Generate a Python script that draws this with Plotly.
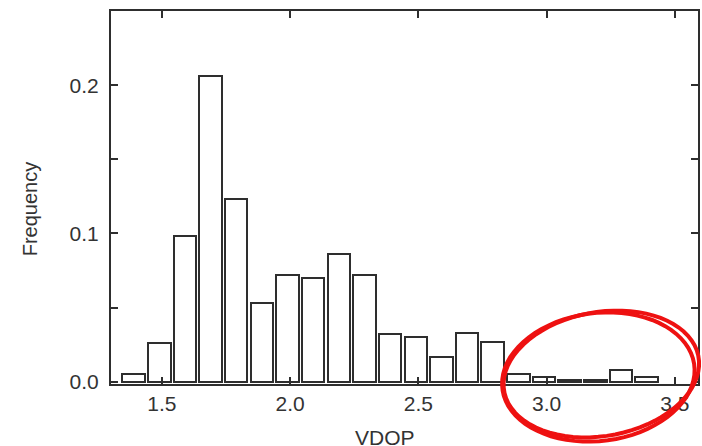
import numpy as np
import plotly.graph_objects as go

# VDOP histogram, bin centres and relative frequency
vdop_bins = [1.39, 1.49, 1.59, 1.69, 1.79, 1.89, 1.99, 2.09, 2.19, 2.29, 2.39,
             2.49, 2.59, 2.69, 2.79, 2.89, 2.99, 3.09, 3.19, 3.29, 3.39]
frequency = [0.005, 0.026, 0.098, 0.206, 0.123, 0.053, 0.072, 0.070, 0.086, 0.072, 0.032,
             0.030, 0.017, 0.033, 0.027, 0.005, 0.003, 0.0015, 0.0015, 0.008, 0.003]
x_ticks = [1.5, 2.0, 2.5, 3.0, 3.5]
x_tick_text = ["1.5", "2.0", "2.5", "3.0", "3.5"]
y_ticks = [0.0, 0.1, 0.2]
y_tick_text = ["0.0", "0.1", "0.2"]

W, H = 702, 446
L, R, T, B = 111, 2, 11, 62
INK = "#2e2e2e"
FONT = "Liberation Sans, Arial, sans-serif"

fig = go.Figure(
    go.Bar(
        x=vdop_bins,
        y=frequency,
        width=0.088,
        marker=dict(color="white", line=dict(color=INK, width=2)),
        showlegend=False,
    )
)

axis_common = dict(
    showline=True, linecolor=INK, linewidth=2, mirror="ticks",
    ticks="inside", tickcolor=INK, tickwidth=2, ticklen=7,
    showgrid=False, zeroline=False,
    tickfont=dict(family=FONT, size=21, color="#333"),
)
fig.update_xaxes(range=[1.302, 3.59], tickvals=x_ticks, ticktext=x_tick_text, **axis_common)
fig.update_yaxes(range=[-0.0015, 0.25], tickvals=y_ticks, ticktext=y_tick_text,
                 minor=dict(ticks="inside", tickvals=[0.05, 0.15], ticklen=7,
                            tickcolor=INK, tickwidth=2),
                 ticklabelstandoff=6, **axis_common)


def px_to_paper(xp, yp):
    return (np.asarray(xp) - L) / (W - L - R), (H - B - np.asarray(yp)) / (H - T - B)


# hand-drawn red ring around the tail of the distribution (pen annotation on the scan)
def ring_path(cx, cy, a, b, rot_deg, turns=1.1, start=0.0):
    t = np.linspace(start, start + 2 * np.pi * turns, 80)
    r = np.deg2rad(rot_deg)
    xs = cx + a * np.cos(t) * np.cos(r) - b * np.sin(t) * np.sin(r)
    ys = cy + a * np.cos(t) * np.sin(r) + b * np.sin(t) * np.cos(r)
    px_, py_ = px_to_paper(xs, ys)
    return "M " + " L ".join(f"{u:.4f},{v:.4f}" for u, v in zip(px_, py_))


for cx, cy, a, b, rot, st in [(603, 374, 99, 62, -10, 0.4), (600, 377, 97, 64, -7, 2.5)]:
    fig.add_shape(type="path", xref="paper", yref="paper",
                  path=ring_path(cx, cy, a, b, rot, start=st),
                  line=dict(color="#ee1111", width=4), layer="above")

fig.add_annotation(text="VDOP", xref="paper", yref="paper",
                   x=px_to_paper(386, 0)[0], y=px_to_paper(0, 424)[1],
                   xanchor="center", yanchor="top", showarrow=False,
                   font=dict(family=FONT, size=21, color="#333"))
fig.add_annotation(text="Frequency", xref="paper", yref="paper",
                   x=px_to_paper(30, 0)[0], y=px_to_paper(0, 209)[1],
                   xanchor="center", yanchor="middle", textangle=-90, showarrow=False,
                   font=dict(family=FONT, size=20, color="#333"))

fig.update_layout(
    width=W, height=H,
    margin=dict(l=L, r=R, t=T, b=B),
    paper_bgcolor="white", plot_bgcolor="white",
    bargap=0,
)

# page has the browser's default body margin; drop it so the figure sits at 0,0
fig.write_html("out.html", config={"displayModeBar": False},
               post_script="document.body.style.margin = '0';")
